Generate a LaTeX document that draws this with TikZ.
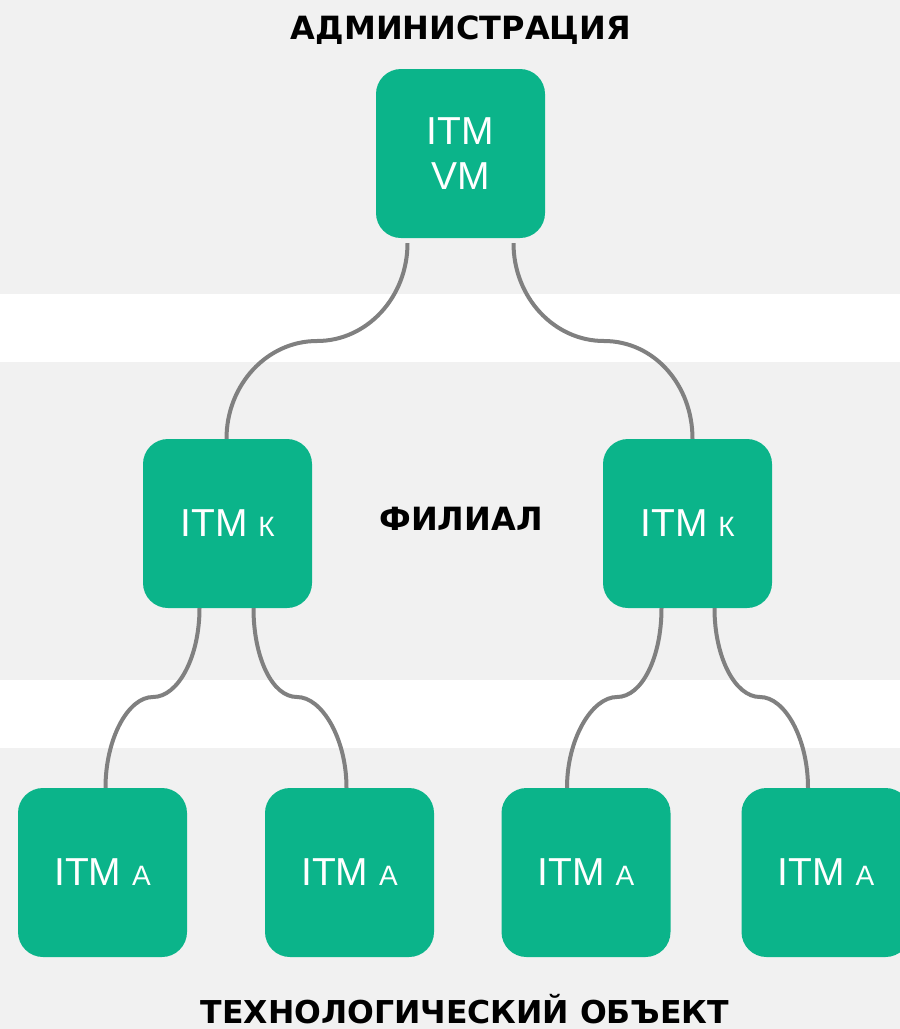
\documentclass[tikz,border=0pt]{standalone}
\usepackage{fontspec}
\setmainfont{Liberation Sans}
\newfontfamily\headfont{DejaVu Sans}
\definecolor{itmgreen}{HTML}{0BB48A}
\definecolor{bandgray}{HTML}{F1F1F1}
\definecolor{linkgray}{HTML}{808080}
\tikzset{itm box/.style={fill=itmgreen, rounded corners=25pt, minimum width=169pt, minimum height=169pt,
    inner sep=0pt, text=white, align=center, font=\fontsize{39}{45}\selectfont}}
\tikzset{level title/.style={anchor=base, text depth=0pt, font=\headfont\bfseries\fontsize{32}{38}\selectfont}}
\tikzset{link/.style={draw=linkgray, line width=4pt}}
\newcommand{\lvl}[1]{{\fontsize{28}{30}\selectfont #1}}

\begin{document}
\begin{tikzpicture}[x=1pt, y=-1pt]
    \useasboundingbox (0,0) rectangle (900,1029);
    \fill[bandgray] (0,0) rectangle (900,294);
    \fill[bandgray] (0,362) rectangle (900,680);
    \fill[bandgray] (0,748) rectangle (900,1029);

    \node[level title] (admin) at (461,39) {АДМИНИСТРАЦИЯ};
    \node[level title] (branch) at (461,530) {ФИЛИАЛ};
    \node[level title, font=\headfont\bfseries\fontsize{31.5}{38}\selectfont] (site) at (465,1023) {ТЕХНОЛОГИЧЕСКИЙ ОБЪЕКТ};

    \node[itm box] (vm) at (460.5,153.5) {ITM\\VM};
    \node[itm box] (kl) at (227.5,523.5) {ITM \lvl{К}};
    \node[itm box] (kr) at (687.5,523.5) {ITM \lvl{К}};
    \node[itm box] (a1) at (102.5,872.5) {ITM \lvl{А}};
    \node[itm box] (a2) at (349.5,872.5) {ITM \lvl{А}};
    \node[itm box] (a3) at (586,872.5) {ITM \lvl{А}};
    \node[itm box] (a4) at (826,872.5) {ITM \lvl{А}};

    \coordinate (m1) at (317,341);
    \coordinate (m2) at (604,341);
    \coordinate (m3) at (153,697);
    \coordinate (m4) at (297,697);
    \coordinate (m5) at (617,697);
    \coordinate (m6) at (760,697);

    \draw[link] ([xshift=-53pt,yshift=-5pt]vm.south) .. controls +(0,54) and +(50,0) .. (m1)
        .. controls +(-50,0) and +(0,-54) .. ([xshift=-1pt]kl.north);
    \draw[link] ([xshift=53pt,yshift=-5pt]vm.south) .. controls +(0,54) and +(-50,0) .. (m2)
        .. controls +(50,0) and +(0,-54) .. ([xshift=5pt]kr.north);

    \draw[link] ([xshift=-28pt]kl.south) .. controls +(0,49) and +(25,0) .. (m3)
        .. controls +(-25,0) and +(0,-49) .. ([xshift=3pt]a1.north);
    \draw[link] ([xshift=26pt]kl.south) .. controls +(0,49) and +(-25,0) .. (m4)
        .. controls +(25,0) and +(0,-49) .. ([xshift=-3pt]a2.north);
    \draw[link] ([xshift=-26pt]kr.south) .. controls +(0,49) and +(25,0) .. (m5)
        .. controls +(-25,0) and +(0,-49) .. ([xshift=-19pt]a3.north);
    \draw[link] ([xshift=27pt]kr.south) .. controls +(0,49) and +(-25,0) .. (m6)
        .. controls +(25,0) and +(0,-49) .. ([xshift=-18pt]a4.north);
\end{tikzpicture}
\end{document}
